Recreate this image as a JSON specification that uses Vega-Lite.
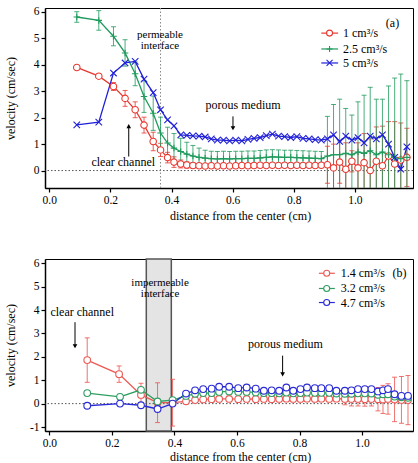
{
  "$schema": "https://vega.github.io/schema/vega-lite/v6.json",
  "padding": {"left": 3, "top": 5, "right": 5, "bottom": 2},
  "spacing": 34,
  "config": {
    "font": "Liberation Serif",
    "view": {"stroke": "black", "strokeWidth": 1},
    "axis": {
      "grid": false,
      "domainColor": "black",
      "domainWidth": 1.5,
      "tickColor": "black",
      "tickWidth": 1.2,
      "tickSize": 4,
      "labelFont": "Liberation Serif",
      "labelFontSize": 11.5,
      "labelColor": "black",
      "labelPadding": 2,
      "titleFont": "Liberation Serif",
      "titleFontSize": 12,
      "titleFontWeight": "normal",
      "titleColor": "black"
    },
    "text": {"font": "Liberation Serif", "color": "black"}
  },
  "datasets": {
    "a": [
      {"d": 0.09, "s": "1 cm³/s", "v": 3.90, "e": 0},
      {"d": 0.162, "s": "1 cm³/s", "v": 3.57, "e": 0.08},
      {"d": 0.21, "s": "1 cm³/s", "v": 3.18, "e": 0.15},
      {"d": 0.248, "s": "1 cm³/s", "v": 2.73, "e": 0.3},
      {"d": 0.281, "s": "1 cm³/s", "v": 2.30, "e": 0.3},
      {"d": 0.31, "s": "1 cm³/s", "v": 1.72, "e": 0.3},
      {"d": 0.34, "s": "1 cm³/s", "v": 1.10, "e": 0.35},
      {"d": 0.364, "s": "1 cm³/s", "v": 0.78, "e": 0.25},
      {"d": 0.387, "s": "1 cm³/s", "v": 0.49, "e": 0.2},
      {"d": 0.408, "s": "1 cm³/s", "v": 0.32, "e": 0.2},
      {"d": 0.43, "s": "1 cm³/s", "v": 0.25, "e": 0.15},
      {"d": 0.45, "s": "1 cm³/s", "v": 0.21, "e": 0.12},
      {"d": 0.47, "s": "1 cm³/s", "v": 0.19, "e": 0.1},
      {"d": 0.49, "s": "1 cm³/s", "v": 0.18, "e": 0.08},
      {"d": 0.51, "s": "1 cm³/s", "v": 0.17, "e": 0.08},
      {"d": 0.53, "s": "1 cm³/s", "v": 0.18, "e": 0.08},
      {"d": 0.55, "s": "1 cm³/s", "v": 0.17, "e": 0.08},
      {"d": 0.57, "s": "1 cm³/s", "v": 0.18, "e": 0.08},
      {"d": 0.59, "s": "1 cm³/s", "v": 0.17, "e": 0.08},
      {"d": 0.61, "s": "1 cm³/s", "v": 0.18, "e": 0.08},
      {"d": 0.63, "s": "1 cm³/s", "v": 0.19, "e": 0.08},
      {"d": 0.65, "s": "1 cm³/s", "v": 0.18, "e": 0.08},
      {"d": 0.67, "s": "1 cm³/s", "v": 0.19, "e": 0.08},
      {"d": 0.69, "s": "1 cm³/s", "v": 0.20, "e": 0.08},
      {"d": 0.71, "s": "1 cm³/s", "v": 0.19, "e": 0.08},
      {"d": 0.73, "s": "1 cm³/s", "v": 0.20, "e": 0.08},
      {"d": 0.75, "s": "1 cm³/s", "v": 0.19, "e": 0.08},
      {"d": 0.77, "s": "1 cm³/s", "v": 0.20, "e": 0.08},
      {"d": 0.79, "s": "1 cm³/s", "v": 0.19, "e": 0.08},
      {"d": 0.81, "s": "1 cm³/s", "v": 0.20, "e": 0.08},
      {"d": 0.83, "s": "1 cm³/s", "v": 0.19, "e": 0.08},
      {"d": 0.85, "s": "1 cm³/s", "v": 0.20, "e": 0.08},
      {"d": 0.87, "s": "1 cm³/s", "v": 0.19, "e": 0.08},
      {"d": 0.89, "s": "1 cm³/s", "v": 0.20, "e": 0.08},
      {"d": 0.91, "s": "1 cm³/s", "v": 0.22, "e": 0.7},
      {"d": 0.93, "s": "1 cm³/s", "v": 0.10, "e": 0.9},
      {"d": 0.95, "s": "1 cm³/s", "v": 0.32, "e": 0.8},
      {"d": 0.97, "s": "1 cm³/s", "v": 0.05, "e": 1.0},
      {"d": 0.99, "s": "1 cm³/s", "v": 0.35, "e": 0.4},
      {"d": 1.01, "s": "1 cm³/s", "v": 0.10, "e": 0.95},
      {"d": 1.03, "s": "1 cm³/s", "v": 0.30, "e": 1.1},
      {"d": 1.05, "s": "1 cm³/s", "v": 0.00, "e": 1.2},
      {"d": 1.07, "s": "1 cm³/s", "v": 0.35, "e": 1.3},
      {"d": 1.09, "s": "1 cm³/s", "v": 0.18, "e": 1.5},
      {"d": 1.11, "s": "1 cm³/s", "v": 0.55, "e": 1.3},
      {"d": 1.13, "s": "1 cm³/s", "v": 0.25, "e": 1.6},
      {"d": 1.15, "s": "1 cm³/s", "v": 0.40, "e": 1.4},
      {"d": 1.17, "s": "1 cm³/s", "v": 0.50, "e": 1.1},

      {"d": 0.09, "s": "2.5 cm³/s", "v": 5.81, "e": 0.2},
      {"d": 0.162, "s": "2.5 cm³/s", "v": 5.68, "e": 0.37},
      {"d": 0.21, "s": "2.5 cm³/s", "v": 5.08, "e": 0.36},
      {"d": 0.248, "s": "2.5 cm³/s", "v": 4.45, "e": 0.5},
      {"d": 0.281, "s": "2.5 cm³/s", "v": 3.66, "e": 0.45},
      {"d": 0.31, "s": "2.5 cm³/s", "v": 2.80, "e": 0.6},
      {"d": 0.34, "s": "2.5 cm³/s", "v": 2.17, "e": 0.65},
      {"d": 0.364, "s": "2.5 cm³/s", "v": 1.42, "e": 0.6},
      {"d": 0.387, "s": "2.5 cm³/s", "v": 1.04, "e": 0.6},
      {"d": 0.408, "s": "2.5 cm³/s", "v": 0.85, "e": 0.55},
      {"d": 0.43, "s": "2.5 cm³/s", "v": 0.72, "e": 0.5},
      {"d": 0.45, "s": "2.5 cm³/s", "v": 0.62, "e": 0.45},
      {"d": 0.47, "s": "2.5 cm³/s", "v": 0.55, "e": 0.4},
      {"d": 0.49, "s": "2.5 cm³/s", "v": 0.50, "e": 0.35},
      {"d": 0.51, "s": "2.5 cm³/s", "v": 0.47, "e": 0.3},
      {"d": 0.53, "s": "2.5 cm³/s", "v": 0.45, "e": 0.28},
      {"d": 0.55, "s": "2.5 cm³/s", "v": 0.44, "e": 0.28},
      {"d": 0.57, "s": "2.5 cm³/s", "v": 0.45, "e": 0.28},
      {"d": 0.59, "s": "2.5 cm³/s", "v": 0.44, "e": 0.28},
      {"d": 0.61, "s": "2.5 cm³/s", "v": 0.45, "e": 0.28},
      {"d": 0.63, "s": "2.5 cm³/s", "v": 0.45, "e": 0.28},
      {"d": 0.65, "s": "2.5 cm³/s", "v": 0.46, "e": 0.28},
      {"d": 0.67, "s": "2.5 cm³/s", "v": 0.46, "e": 0.28},
      {"d": 0.69, "s": "2.5 cm³/s", "v": 0.48, "e": 0.28},
      {"d": 0.71, "s": "2.5 cm³/s", "v": 0.50, "e": 0.28},
      {"d": 0.73, "s": "2.5 cm³/s", "v": 0.52, "e": 0.27},
      {"d": 0.75, "s": "2.5 cm³/s", "v": 0.51, "e": 0.27},
      {"d": 0.77, "s": "2.5 cm³/s", "v": 0.50, "e": 0.27},
      {"d": 0.79, "s": "2.5 cm³/s", "v": 0.50, "e": 0.27},
      {"d": 0.81, "s": "2.5 cm³/s", "v": 0.49, "e": 0.27},
      {"d": 0.83, "s": "2.5 cm³/s", "v": 0.48, "e": 0.27},
      {"d": 0.85, "s": "2.5 cm³/s", "v": 0.47, "e": 0.27},
      {"d": 0.87, "s": "2.5 cm³/s", "v": 0.46, "e": 0.27},
      {"d": 0.89, "s": "2.5 cm³/s", "v": 0.45, "e": 0.27},
      {"d": 0.91, "s": "2.5 cm³/s", "v": 0.55, "e": 1.5},
      {"d": 0.93, "s": "2.5 cm³/s", "v": 0.60, "e": 1.9},
      {"d": 0.95, "s": "2.5 cm³/s", "v": 0.60, "e": 2.1},
      {"d": 0.97, "s": "2.5 cm³/s", "v": 0.65, "e": 1.7},
      {"d": 0.99, "s": "2.5 cm³/s", "v": 0.60, "e": 1.5},
      {"d": 1.01, "s": "2.5 cm³/s", "v": 0.70, "e": 1.9},
      {"d": 1.03, "s": "2.5 cm³/s", "v": 0.65, "e": 2.2},
      {"d": 1.05, "s": "2.5 cm³/s", "v": 0.75, "e": 2.4},
      {"d": 1.07, "s": "2.5 cm³/s", "v": 0.60, "e": 2.1},
      {"d": 1.09, "s": "2.5 cm³/s", "v": 0.70, "e": 2.0},
      {"d": 1.11, "s": "2.5 cm³/s", "v": 0.60, "e": 2.6},
      {"d": 1.13, "s": "2.5 cm³/s", "v": 0.50, "e": 3.0},
      {"d": 1.15, "s": "2.5 cm³/s", "v": 0.45, "e": 3.2},
      {"d": 1.17, "s": "2.5 cm³/s", "v": 0.50, "e": 2.9},

      {"d": 0.09, "s": "5 cm³/s", "v": 1.73, "e": 0},
      {"d": 0.162, "s": "5 cm³/s", "v": 1.83, "e": 0},
      {"d": 0.21, "s": "5 cm³/s", "v": 3.69, "e": 0},
      {"d": 0.248, "s": "5 cm³/s", "v": 4.07, "e": 0},
      {"d": 0.281, "s": "5 cm³/s", "v": 4.13, "e": 0},
      {"d": 0.31, "s": "5 cm³/s", "v": 3.46, "e": 0},
      {"d": 0.34, "s": "5 cm³/s", "v": 2.95, "e": 0},
      {"d": 0.364, "s": "5 cm³/s", "v": 2.30, "e": 0},
      {"d": 0.387, "s": "5 cm³/s", "v": 1.92, "e": 0},
      {"d": 0.408, "s": "5 cm³/s", "v": 1.69, "e": 0},
      {"d": 0.43, "s": "5 cm³/s", "v": 1.35, "e": 0},
      {"d": 0.45, "s": "5 cm³/s", "v": 1.33, "e": 0},
      {"d": 0.47, "s": "5 cm³/s", "v": 1.31, "e": 0},
      {"d": 0.49, "s": "5 cm³/s", "v": 1.30, "e": 0},
      {"d": 0.51, "s": "5 cm³/s", "v": 1.27, "e": 0},
      {"d": 0.53, "s": "5 cm³/s", "v": 1.20, "e": 0},
      {"d": 0.55, "s": "5 cm³/s", "v": 1.15, "e": 0},
      {"d": 0.57, "s": "5 cm³/s", "v": 1.15, "e": 0},
      {"d": 0.59, "s": "5 cm³/s", "v": 1.12, "e": 0},
      {"d": 0.61, "s": "5 cm³/s", "v": 1.15, "e": 0},
      {"d": 0.63, "s": "5 cm³/s", "v": 1.12, "e": 0},
      {"d": 0.65, "s": "5 cm³/s", "v": 1.18, "e": 0},
      {"d": 0.67, "s": "5 cm³/s", "v": 1.22, "e": 0},
      {"d": 0.69, "s": "5 cm³/s", "v": 1.25, "e": 0},
      {"d": 0.71, "s": "5 cm³/s", "v": 1.32, "e": 0},
      {"d": 0.73, "s": "5 cm³/s", "v": 1.38, "e": 0},
      {"d": 0.75, "s": "5 cm³/s", "v": 1.30, "e": 0},
      {"d": 0.77, "s": "5 cm³/s", "v": 1.28, "e": 0},
      {"d": 0.79, "s": "5 cm³/s", "v": 1.25, "e": 0},
      {"d": 0.81, "s": "5 cm³/s", "v": 1.28, "e": 0},
      {"d": 0.83, "s": "5 cm³/s", "v": 1.22, "e": 0},
      {"d": 0.85, "s": "5 cm³/s", "v": 1.20, "e": 0},
      {"d": 0.87, "s": "5 cm³/s", "v": 1.17, "e": 0},
      {"d": 0.89, "s": "5 cm³/s", "v": 1.15, "e": 0},
      {"d": 0.91, "s": "5 cm³/s", "v": 1.20, "e": 0},
      {"d": 0.93, "s": "5 cm³/s", "v": 1.35, "e": 0},
      {"d": 0.95, "s": "5 cm³/s", "v": 1.10, "e": 0},
      {"d": 0.97, "s": "5 cm³/s", "v": 1.30, "e": 0},
      {"d": 0.99, "s": "5 cm³/s", "v": 1.15, "e": 0},
      {"d": 1.01, "s": "5 cm³/s", "v": 1.25, "e": 0},
      {"d": 1.03, "s": "5 cm³/s", "v": 1.05, "e": 0},
      {"d": 1.05, "s": "5 cm³/s", "v": 1.30, "e": 0},
      {"d": 1.07, "s": "5 cm³/s", "v": 1.20, "e": 0},
      {"d": 1.09, "s": "5 cm³/s", "v": 1.35, "e": 0},
      {"d": 1.11, "s": "5 cm³/s", "v": 1.00, "e": 0},
      {"d": 1.13, "s": "5 cm³/s", "v": 0.50, "e": 0},
      {"d": 1.15, "s": "5 cm³/s", "v": 0.05, "e": 0},
      {"d": 1.17, "s": "5 cm³/s", "v": 0.90, "e": 0}
    ],
    "b": [
      {"d": 0.121, "s": "1.4 cm³/s", "v": 1.86, "e": 0.95},
      {"d": 0.223, "s": "1.4 cm³/s", "v": 1.26, "e": 0.35},
      {"d": 0.293, "s": "1.4 cm³/s", "v": 0.37, "e": 0.5},
      {"d": 0.346, "s": "1.4 cm³/s", "v": 0.04, "e": 0.85},
      {"d": 0.394, "s": "1.4 cm³/s", "v": 0.04, "e": 1.0},
      {"d": 0.437, "s": "1.4 cm³/s", "v": 0.10, "e": 0},
      {"d": 0.466, "s": "1.4 cm³/s", "v": 0.15, "e": 0},
      {"d": 0.492, "s": "1.4 cm³/s", "v": 0.18, "e": 0},
      {"d": 0.519, "s": "1.4 cm³/s", "v": 0.19, "e": 0},
      {"d": 0.543, "s": "1.4 cm³/s", "v": 0.20, "e": 0},
      {"d": 0.575, "s": "1.4 cm³/s", "v": 0.20, "e": 0},
      {"d": 0.604, "s": "1.4 cm³/s", "v": 0.19, "e": 0},
      {"d": 0.631, "s": "1.4 cm³/s", "v": 0.20, "e": 0},
      {"d": 0.660, "s": "1.4 cm³/s", "v": 0.19, "e": 0},
      {"d": 0.686, "s": "1.4 cm³/s", "v": 0.20, "e": 0},
      {"d": 0.711, "s": "1.4 cm³/s", "v": 0.19, "e": 0},
      {"d": 0.735, "s": "1.4 cm³/s", "v": 0.20, "e": 0},
      {"d": 0.758, "s": "1.4 cm³/s", "v": 0.21, "e": 0},
      {"d": 0.780, "s": "1.4 cm³/s", "v": 0.20, "e": 0},
      {"d": 0.803, "s": "1.4 cm³/s", "v": 0.20, "e": 0},
      {"d": 0.824, "s": "1.4 cm³/s", "v": 0.21, "e": 0},
      {"d": 0.849, "s": "1.4 cm³/s", "v": 0.20, "e": 0},
      {"d": 0.870, "s": "1.4 cm³/s", "v": 0.21, "e": 0},
      {"d": 0.895, "s": "1.4 cm³/s", "v": 0.20, "e": 0},
      {"d": 0.918, "s": "1.4 cm³/s", "v": 0.21, "e": 0},
      {"d": 0.945, "s": "1.4 cm³/s", "v": 0.20, "e": 0.25},
      {"d": 0.966, "s": "1.4 cm³/s", "v": 0.20, "e": 0.3},
      {"d": 0.987, "s": "1.4 cm³/s", "v": 0.20, "e": 0.3},
      {"d": 1.009, "s": "1.4 cm³/s", "v": 0.19, "e": 0.3},
      {"d": 1.030, "s": "1.4 cm³/s", "v": 0.20, "e": 0.3},
      {"d": 1.051, "s": "1.4 cm³/s", "v": 0.19, "e": 0.5},
      {"d": 1.067, "s": "1.4 cm³/s", "v": 0.18, "e": 0.6},
      {"d": 1.083, "s": "1.4 cm³/s", "v": 0.20, "e": 0.65},
      {"d": 1.104, "s": "1.4 cm³/s", "v": 0.18, "e": 0.95},
      {"d": 1.126, "s": "1.4 cm³/s", "v": 0.16, "e": 1.0},
      {"d": 1.147, "s": "1.4 cm³/s", "v": 0.15, "e": 1.05},

      {"d": 0.121, "s": "3.2 cm³/s", "v": 0.45, "e": 0},
      {"d": 0.226, "s": "3.2 cm³/s", "v": 0.29, "e": 0},
      {"d": 0.293, "s": "3.2 cm³/s", "v": 0.59, "e": 0},
      {"d": 0.346, "s": "3.2 cm³/s", "v": 0.09, "e": 0},
      {"d": 0.394, "s": "3.2 cm³/s", "v": 0.15, "e": 0},
      {"d": 0.437, "s": "3.2 cm³/s", "v": 0.33, "e": 0},
      {"d": 0.466, "s": "3.2 cm³/s", "v": 0.42, "e": 0},
      {"d": 0.492, "s": "3.2 cm³/s", "v": 0.45, "e": 0},
      {"d": 0.519, "s": "3.2 cm³/s", "v": 0.45, "e": 0},
      {"d": 0.543, "s": "3.2 cm³/s", "v": 0.50, "e": 0},
      {"d": 0.575, "s": "3.2 cm³/s", "v": 0.52, "e": 0},
      {"d": 0.604, "s": "3.2 cm³/s", "v": 0.50, "e": 0},
      {"d": 0.631, "s": "3.2 cm³/s", "v": 0.50, "e": 0},
      {"d": 0.660, "s": "3.2 cm³/s", "v": 0.48, "e": 0},
      {"d": 0.686, "s": "3.2 cm³/s", "v": 0.45, "e": 0},
      {"d": 0.711, "s": "3.2 cm³/s", "v": 0.45, "e": 0},
      {"d": 0.735, "s": "3.2 cm³/s", "v": 0.44, "e": 0},
      {"d": 0.758, "s": "3.2 cm³/s", "v": 0.47, "e": 0},
      {"d": 0.780, "s": "3.2 cm³/s", "v": 0.44, "e": 0},
      {"d": 0.803, "s": "3.2 cm³/s", "v": 0.45, "e": 0},
      {"d": 0.824, "s": "3.2 cm³/s", "v": 0.47, "e": 0},
      {"d": 0.849, "s": "3.2 cm³/s", "v": 0.46, "e": 0},
      {"d": 0.870, "s": "3.2 cm³/s", "v": 0.46, "e": 0},
      {"d": 0.895, "s": "3.2 cm³/s", "v": 0.46, "e": 0},
      {"d": 0.918, "s": "3.2 cm³/s", "v": 0.43, "e": 0},
      {"d": 0.945, "s": "3.2 cm³/s", "v": 0.42, "e": 0},
      {"d": 0.966, "s": "3.2 cm³/s", "v": 0.42, "e": 0},
      {"d": 0.987, "s": "3.2 cm³/s", "v": 0.44, "e": 0},
      {"d": 1.009, "s": "3.2 cm³/s", "v": 0.44, "e": 0},
      {"d": 1.030, "s": "3.2 cm³/s", "v": 0.43, "e": 0},
      {"d": 1.051, "s": "3.2 cm³/s", "v": 0.38, "e": 0},
      {"d": 1.067, "s": "3.2 cm³/s", "v": 0.40, "e": 0},
      {"d": 1.083, "s": "3.2 cm³/s", "v": 0.40, "e": 0},
      {"d": 1.104, "s": "3.2 cm³/s", "v": 0.30, "e": 0},
      {"d": 1.126, "s": "3.2 cm³/s", "v": 0.27, "e": 0},
      {"d": 1.147, "s": "3.2 cm³/s", "v": 0.25, "e": 0},

      {"d": 0.121, "s": "4.7 cm³/s", "v": -0.09, "e": 0},
      {"d": 0.226, "s": "4.7 cm³/s", "v": 0.00, "e": 0},
      {"d": 0.293, "s": "4.7 cm³/s", "v": -0.07, "e": 0},
      {"d": 0.346, "s": "4.7 cm³/s", "v": -0.23, "e": 0},
      {"d": 0.394, "s": "4.7 cm³/s", "v": 0.00, "e": 0},
      {"d": 0.437, "s": "4.7 cm³/s", "v": 0.43, "e": 0},
      {"d": 0.466, "s": "4.7 cm³/s", "v": 0.57, "e": 0},
      {"d": 0.492, "s": "4.7 cm³/s", "v": 0.62, "e": 0},
      {"d": 0.519, "s": "4.7 cm³/s", "v": 0.64, "e": 0},
      {"d": 0.543, "s": "4.7 cm³/s", "v": 0.72, "e": 0},
      {"d": 0.575, "s": "4.7 cm³/s", "v": 0.72, "e": 0},
      {"d": 0.604, "s": "4.7 cm³/s", "v": 0.66, "e": 0},
      {"d": 0.631, "s": "4.7 cm³/s", "v": 0.69, "e": 0},
      {"d": 0.660, "s": "4.7 cm³/s", "v": 0.64, "e": 0},
      {"d": 0.686, "s": "4.7 cm³/s", "v": 0.55, "e": 0},
      {"d": 0.711, "s": "4.7 cm³/s", "v": 0.57, "e": 0},
      {"d": 0.735, "s": "4.7 cm³/s", "v": 0.55, "e": 0},
      {"d": 0.758, "s": "4.7 cm³/s", "v": 0.69, "e": 0},
      {"d": 0.780, "s": "4.7 cm³/s", "v": 0.55, "e": 0},
      {"d": 0.803, "s": "4.7 cm³/s", "v": 0.62, "e": 0},
      {"d": 0.824, "s": "4.7 cm³/s", "v": 0.69, "e": 0},
      {"d": 0.849, "s": "4.7 cm³/s", "v": 0.66, "e": 0},
      {"d": 0.870, "s": "4.7 cm³/s", "v": 0.66, "e": 0},
      {"d": 0.895, "s": "4.7 cm³/s", "v": 0.66, "e": 0},
      {"d": 0.918, "s": "4.7 cm³/s", "v": 0.55, "e": 0},
      {"d": 0.945, "s": "4.7 cm³/s", "v": 0.55, "e": 0},
      {"d": 0.966, "s": "4.7 cm³/s", "v": 0.57, "e": 0},
      {"d": 0.987, "s": "4.7 cm³/s", "v": 0.62, "e": 0},
      {"d": 1.009, "s": "4.7 cm³/s", "v": 0.62, "e": 0},
      {"d": 1.030, "s": "4.7 cm³/s", "v": 0.62, "e": 0},
      {"d": 1.051, "s": "4.7 cm³/s", "v": 0.52, "e": 0},
      {"d": 1.067, "s": "4.7 cm³/s", "v": 0.57, "e": 0},
      {"d": 1.083, "s": "4.7 cm³/s", "v": 0.62, "e": 0},
      {"d": 1.104, "s": "4.7 cm³/s", "v": 0.40, "e": 0},
      {"d": 1.126, "s": "4.7 cm³/s", "v": 0.33, "e": 0},
      {"d": 1.147, "s": "4.7 cm³/s", "v": 0.33, "e": 0}
    ]
  },
  "vconcat": [
    {
      "width": 368,
      "height": 180,
      "encoding": {
        "x": {
          "type": "quantitative",
          "title": "distance from the center (cm)",
          "scale": {"domain": [-0.014, 1.19], "nice": false, "zero": false},
          "axis": {"values": [0, 0.2, 0.4, 0.6, 0.8, 1.0], "format": ".1f", "titleX": 195, "titlePadding": 5}
        },
        "y": {
          "type": "quantitative",
          "title": "velocity (cm/sec)",
          "scale": {"domain": [-0.66, 6.15], "nice": false, "zero": false},
          "axis": {"values": [0, 1, 2, 3, 4, 5, 6], "labelExpr": "'' + datum.value", "titlePadding": 16}
        }
      },
      "layer": [
        {
          "data": {"values": [{}]},
          "mark": {"type": "rule", "strokeDash": [1.5, 2], "color": "#555", "strokeWidth": 1},
          "encoding": {"y": {"datum": 0}}
        },
        {
          "data": {"values": [{}]},
          "mark": {"type": "rule", "strokeDash": [1.5, 2], "color": "#888", "strokeWidth": 1},
          "encoding": {"x": {"datum": 0.364}}
        },
        {
          "data": {"name": "a"},
          "transform": [{"filter": "datum.e > 0"}],
          "mark": {"type": "errorbar", "ticks": {"size": 5}, "opacity": 0.8, "clip": true},
          "encoding": {
            "x": {"field": "d"},
            "y": {"field": "v"},
            "yError": {"field": "e"},
            "color": {"field": "s", "type": "nominal", "legend": null, "scale": {"domain": ["1 cm³/s", "2.5 cm³/s", "5 cm³/s"], "range": ["#e8372f", "#1f9a5c", "#2020d8"]}}
          }
        },
        {
          "data": {"name": "a"},
          "mark": {"type": "line", "strokeWidth": 1.3, "clip": true},
          "encoding": {
            "x": {"field": "d"},
            "y": {"field": "v"},
            "color": {"field": "s", "type": "nominal", "legend": null}
          }
        },
        {
          "data": {"name": "a"},
          "mark": {"type": "point", "filled": false, "fill": "white", "size": 42, "strokeWidth": 1.1, "opacity": 1, "clip": true},
          "encoding": {
            "x": {"field": "d"},
            "y": {"field": "v"},
            "color": {"field": "s", "type": "nominal", "legend": null},
            "shape": {
              "field": "s", "type": "nominal", "legend": null,
              "scale": {"domain": ["1 cm³/s", "2.5 cm³/s", "5 cm³/s"], "range": ["circle", "M-1,0H1M0,-1V1", "M-1,-1L1,1M-1,1L1,-1"]}
            }
          }
        },
        {"data": {"values": [{}]}, "mark": {"type": "rule", "color": "#e8372f", "strokeWidth": 1.2}, "encoding": {"x": {"datum": 0.89}, "x2": {"datum": 0.945}, "y": {"datum": 5.2}}},
        {"data": {"values": [{}]}, "mark": {"type": "point", "shape": "circle", "filled": false, "fill": "white", "color": "#e8372f", "size": 36, "strokeWidth": 1.1, "opacity": 1}, "encoding": {"x": {"datum": 0.917}, "y": {"datum": 5.2}}},
        {"data": {"values": [{}]}, "mark": {"type": "text", "text": "1 cm³/s", "fontSize": 12, "align": "left", "baseline": "middle"}, "encoding": {"x": {"datum": 0.961}, "y": {"datum": 5.2}}},
        {"data": {"values": [{}]}, "mark": {"type": "rule", "color": "#1f9a5c", "strokeWidth": 1.2}, "encoding": {"x": {"datum": 0.89}, "x2": {"datum": 0.945}, "y": {"datum": 4.6}}},
        {"data": {"values": [{}]}, "mark": {"type": "point", "shape": "M-1,0H1M0,-1V1", "filled": false, "color": "#1f9a5c", "size": 36, "strokeWidth": 1.1, "opacity": 1}, "encoding": {"x": {"datum": 0.917}, "y": {"datum": 4.6}}},
        {"data": {"values": [{}]}, "mark": {"type": "text", "text": "2.5 cm³/s", "fontSize": 12, "align": "left", "baseline": "middle"}, "encoding": {"x": {"datum": 0.961}, "y": {"datum": 4.6}}},
        {"data": {"values": [{}]}, "mark": {"type": "rule", "color": "#2020d8", "strokeWidth": 1.2}, "encoding": {"x": {"datum": 0.89}, "x2": {"datum": 0.945}, "y": {"datum": 4.07}}},
        {"data": {"values": [{}]}, "mark": {"type": "point", "shape": "M-1,-1L1,1M-1,1L1,-1", "filled": false, "color": "#2020d8", "size": 36, "strokeWidth": 1.1, "opacity": 1}, "encoding": {"x": {"datum": 0.917}, "y": {"datum": 4.07}}},
        {"data": {"values": [{}]}, "mark": {"type": "text", "text": "5 cm³/s", "fontSize": 12, "align": "left", "baseline": "middle"}, "encoding": {"x": {"datum": 0.961}, "y": {"datum": 4.07}}},
        {
          "data": {"values": [{}]},
          "mark": {"type": "text", "text": "(a)", "fontSize": 12},
          "encoding": {"x": {"datum": 1.123}, "y": {"datum": 5.6}}
        },
        {
          "data": {"values": [{}]},
          "mark": {"type": "text", "text": ["permeable", "interface"], "fontSize": 11, "lineHeight": 11, "baseline": "middle"},
          "encoding": {"x": {"datum": 0.362}, "y": {"datum": 5.12}}
        },
        {
          "data": {"values": [{}]},
          "mark": {"type": "text", "text": "porous medium", "fontSize": 12, "baseline": "middle"},
          "encoding": {"x": {"datum": 0.634}, "y": {"datum": 2.49}}
        },
        {
          "data": {"values": [{}]},
          "mark": {"type": "text", "text": "clear channel", "fontSize": 12, "baseline": "middle"},
          "encoding": {"x": {"datum": 0.242}, "y": {"datum": 0.33}}
        },
        {
          "data": {"values": [{}]},
          "mark": {"type": "rule", "color": "black", "strokeWidth": 1},
          "encoding": {"x": {"datum": 0.601}, "y": {"datum": 2.05}, "y2": {"datum": 1.6}}
        },
        {
          "data": {"values": [{}]},
          "mark": {"type": "point", "shape": "triangle-down", "filled": true, "color": "black", "size": 22, "opacity": 1},
          "encoding": {"x": {"datum": 0.601}, "y": {"datum": 1.6}}
        },
        {
          "data": {"values": [{}]},
          "mark": {"type": "rule", "color": "black", "strokeWidth": 1},
          "encoding": {"x": {"datum": 0.26}, "y": {"datum": 0.53}, "y2": {"datum": 1.65}}
        },
        {
          "data": {"values": [{}]},
          "mark": {"type": "point", "shape": "triangle-up", "filled": true, "color": "black", "size": 22, "opacity": 1},
          "encoding": {"x": {"datum": 0.26}, "y": {"datum": 1.68}}
        }
      ]
    },
    {
      "width": 368,
      "height": 172,
      "encoding": {
        "x": {
          "type": "quantitative",
          "title": "distance from the center (cm)",
          "scale": {"domain": [-0.014, 1.163], "nice": false, "zero": false},
          "axis": {"values": [0, 0.2, 0.4, 0.6, 0.8, 1.0], "format": ".1f", "titleX": 195, "titlePadding": 3}
        },
        "y": {
          "type": "quantitative",
          "title": "velocity (cm/sec)",
          "scale": {"domain": [-1.17, 6.18], "nice": false, "zero": false},
          "axis": {"values": [-1, 0, 1, 2, 3, 4, 5, 6], "labelExpr": "'' + datum.value", "titlePadding": 12}
        }
      },
      "layer": [
        {
          "data": {"values": [{}]},
          "mark": {"type": "rect", "fill": "#e4e4e4", "stroke": "#555", "strokeWidth": 1.5},
          "encoding": {"x": {"datum": 0.31}, "x2": {"datum": 0.39}, "y": {"datum": -1.17}, "y2": {"datum": 6.18}}
        },
        {
          "data": {"values": [{}]},
          "mark": {"type": "rule", "strokeDash": [1.5, 2], "color": "#555", "strokeWidth": 1},
          "encoding": {"y": {"datum": 0}}
        },
        {
          "data": {"name": "b"},
          "transform": [{"filter": "datum.e > 0"}],
          "mark": {"type": "errorbar", "ticks": {"size": 5}, "opacity": 0.85, "clip": true},
          "encoding": {
            "x": {"field": "d"},
            "y": {"field": "v"},
            "yError": {"field": "e"},
            "color": {"field": "s", "type": "nominal", "legend": null, "scale": {"domain": ["1.4 cm³/s", "3.2 cm³/s", "4.7 cm³/s"], "range": ["#ec5a55", "#2e9e62", "#2a2ad6"]}}
          }
        },
        {
          "data": {"name": "b"},
          "mark": {"type": "line", "strokeWidth": 1.3, "clip": true},
          "encoding": {
            "x": {"field": "d"},
            "y": {"field": "v"},
            "color": {"field": "s", "type": "nominal", "legend": null}
          }
        },
        {
          "data": {"name": "b"},
          "mark": {"type": "point", "shape": "circle", "filled": false, "fill": "white", "size": 45, "strokeWidth": 1.1, "opacity": 1, "clip": true},
          "encoding": {
            "x": {"field": "d"},
            "y": {"field": "v"},
            "color": {"field": "s", "type": "nominal", "legend": null}
          }
        },
        {"data": {"values": [{}]}, "mark": {"type": "rule", "color": "#ec5a55", "strokeWidth": 1.2}, "encoding": {"x": {"datum": 0.862}, "x2": {"datum": 0.913}, "y": {"datum": 5.57}}},
        {"data": {"values": [{}]}, "mark": {"type": "point", "shape": "circle", "filled": false, "fill": "white", "color": "#ec5a55", "size": 36, "strokeWidth": 1.1, "opacity": 1}, "encoding": {"x": {"datum": 0.887}, "y": {"datum": 5.57}}},
        {"data": {"values": [{}]}, "mark": {"type": "text", "text": "1.4 cm³/s", "fontSize": 12, "align": "left", "baseline": "middle"}, "encoding": {"x": {"datum": 0.932}, "y": {"datum": 5.57}}},
        {"data": {"values": [{}]}, "mark": {"type": "rule", "color": "#2e9e62", "strokeWidth": 1.2}, "encoding": {"x": {"datum": 0.862}, "x2": {"datum": 0.913}, "y": {"datum": 4.92}}},
        {"data": {"values": [{}]}, "mark": {"type": "point", "shape": "circle", "filled": false, "fill": "white", "color": "#2e9e62", "size": 36, "strokeWidth": 1.1, "opacity": 1}, "encoding": {"x": {"datum": 0.887}, "y": {"datum": 4.92}}},
        {"data": {"values": [{}]}, "mark": {"type": "text", "text": "3.2 cm³/s", "fontSize": 12, "align": "left", "baseline": "middle"}, "encoding": {"x": {"datum": 0.932}, "y": {"datum": 4.92}}},
        {"data": {"values": [{}]}, "mark": {"type": "rule", "color": "#2a2ad6", "strokeWidth": 1.2}, "encoding": {"x": {"datum": 0.862}, "x2": {"datum": 0.913}, "y": {"datum": 4.32}}},
        {"data": {"values": [{}]}, "mark": {"type": "point", "shape": "circle", "filled": false, "fill": "white", "color": "#2a2ad6", "size": 36, "strokeWidth": 1.1, "opacity": 1}, "encoding": {"x": {"datum": 0.887}, "y": {"datum": 4.32}}},
        {"data": {"values": [{}]}, "mark": {"type": "text", "text": "4.7 cm³/s", "fontSize": 12, "align": "left", "baseline": "middle"}, "encoding": {"x": {"datum": 0.932}, "y": {"datum": 4.32}}},
        {
          "data": {"values": [{}]},
          "mark": {"type": "text", "text": "(b)", "fontSize": 12},
          "encoding": {"x": {"datum": 1.12}, "y": {"datum": 5.57}}
        },
        {
          "data": {"values": [{}]},
          "mark": {"type": "text", "text": ["impermeable", "interface"], "fontSize": 11, "lineHeight": 11, "baseline": "middle"},
          "encoding": {"x": {"datum": 0.354}, "y": {"datum": 5.15}}
        },
        {
          "data": {"values": [{}]},
          "mark": {"type": "text", "text": "clear channel", "fontSize": 12, "baseline": "middle"},
          "encoding": {"x": {"datum": 0.105}, "y": {"datum": 3.9}}
        },
        {
          "data": {"values": [{}]},
          "mark": {"type": "text", "text": "porous medium", "fontSize": 12, "baseline": "middle"},
          "encoding": {"x": {"datum": 0.755}, "y": {"datum": 2.55}}
        },
        {
          "data": {"values": [{}]},
          "mark": {"type": "rule", "color": "black", "strokeWidth": 1},
          "encoding": {"x": {"datum": 0.082}, "y": {"datum": 3.48}, "y2": {"datum": 2.5}}
        },
        {
          "data": {"values": [{}]},
          "mark": {"type": "point", "shape": "triangle-down", "filled": true, "color": "black", "size": 22, "opacity": 1},
          "encoding": {"x": {"datum": 0.082}, "y": {"datum": 2.45}}
        },
        {
          "data": {"values": [{}]},
          "mark": {"type": "rule", "color": "black", "strokeWidth": 1},
          "encoding": {"x": {"datum": 0.746}, "y": {"datum": 2.05}, "y2": {"datum": 1.3}}
        },
        {
          "data": {"values": [{}]},
          "mark": {"type": "point", "shape": "triangle-down", "filled": true, "color": "black", "size": 22, "opacity": 1},
          "encoding": {"x": {"datum": 0.746}, "y": {"datum": 1.25}}
        }
      ]
    }
  ],
  "resolve": {"scale": {"color": "independent", "shape": "independent", "x": "independent", "y": "independent"}}
}
